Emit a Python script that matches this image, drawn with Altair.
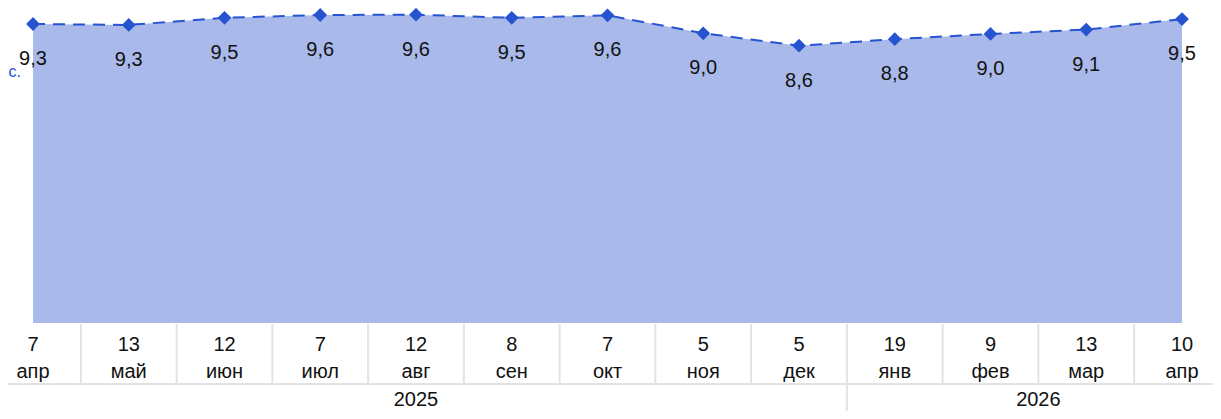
import altair as alt
import pandas as pd

# ---- data ----
days = ["7", "13", "12", "7", "12", "8", "7", "5", "5", "19", "9", "13", "10"]
months = ["апр", "май", "июн", "июл", "авг", "сен", "окт", "ноя", "дек", "янв", "фев", "мар", "апр"]
years_of_point = [2025] * 9 + [2026] * 4
values = [9.31, 9.28, 9.51, 9.60, 9.61, 9.51, 9.59, 9.01, 8.61, 8.82, 8.99, 9.13, 9.47]
unit_label = "тыс."

# ---- style ----
FONT = "Liberation Sans"
LINE_COLOR = "#2653d0"
AREA_COLOR = "#a9b9e9"
GRID_COLOR = "#e3e3e3"
Y_MAX = 9.826
Y_MIN = -0.335
N = len(values)

df = pd.DataFrame({
    "i": list(range(N)),
    "v": values,
    "day": days,
    "month": months,
    "year": years_of_point,
})
df["label"] = [f"{v:.1f}".replace(".", ",") for v in values]

bounds = pd.DataFrame({"b": [k + 0.5 for k in range(N - 1)]})

yr = df.groupby("year")["i"].agg(["min", "max"]).reset_index()
yr["center"] = (yr["min"] - 0.5 + yr["max"] + 0.5) / 2
yr["year"] = yr["year"].astype(str)
year_sep = pd.DataFrame({"b": [float(m) + 0.5 for m in yr["max"].iloc[:-1]]})

xs = alt.Scale(domain=[0, N - 1], nice=False, zero=False)
ys = alt.Scale(domain=[Y_MIN, Y_MAX], nice=False, zero=False)

base = alt.Chart(df)

area = base.mark_area(color=AREA_COLOR, opacity=1).encode(
    x=alt.X("i:Q", scale=xs, axis=None),
    y=alt.Y("v:Q", scale=ys, axis=None),
    y2=alt.datum(Y_MIN),
)
line = base.mark_line(color=LINE_COLOR, strokeWidth=2, strokeDash=[12, 8]).encode(
    x=alt.X("i:Q", scale=xs), y=alt.Y("v:Q", scale=ys)
)
pts = base.mark_point(shape="diamond", filled=True, size=190, opacity=1, color=LINE_COLOR).encode(
    x=alt.X("i:Q", scale=xs), y=alt.Y("v:Q", scale=ys)
)
vlabels = base.mark_text(font=FONT, fontSize=20, color="#111111", dy=35, baseline="middle").encode(
    x=alt.X("i:Q", scale=xs), y=alt.Y("v:Q", scale=ys), text="label:N"
)
daytxt = base.mark_text(font=FONT, fontSize=20, color="#111111", baseline="middle").encode(
    x=alt.X("i:Q", scale=xs), y=alt.value(337), text="day:N"
)
montxt = base.mark_text(font=FONT, fontSize=20, color="#111111", baseline="middle").encode(
    x=alt.X("i:Q", scale=xs), y=alt.value(364), text="month:N"
)
cells = alt.Chart(bounds).mark_rule(color=GRID_COLOR, strokeWidth=2).encode(
    x=alt.X("b:Q", scale=xs), y=alt.value(316), y2=alt.value(376)
)
bottom_line = alt.Chart(bounds).mark_rule(color=GRID_COLOR, strokeWidth=2).encode(
    x=alt.value(-40), x2=alt.value(1250), y=alt.value(376)
)
ysep = alt.Chart(year_sep).mark_rule(color=GRID_COLOR, strokeWidth=2).encode(
    x=alt.X("b:Q", scale=xs), y=alt.value(376), y2=alt.value(420)
)
yeartxt = alt.Chart(yr).mark_text(font=FONT, fontSize=20, color="#111111", baseline="middle").encode(
    x=alt.X("center:Q", scale=xs), y=alt.value(392), text="year:N"
)
unit = alt.Chart(pd.DataFrame({"t": [unit_label]})).mark_text(
    font=FONT, fontSize=16, color=LINE_COLOR, align="right", baseline="middle"
).encode(x=alt.value(-12), y=alt.value(64), text="t:N")

chart = alt.layer(
    area, cells, bottom_line, ysep, line, pts, vlabels, daytxt, montxt, yeartxt, unit
).properties(
    width=1149,
    height=315,
    autosize=alt.AutoSizeParams(type="none"),
    padding={"left": 25, "top": 0, "right": 31, "bottom": 88},
).configure_view(stroke=None)

chart.save("out.html", embed_options={"renderer": "svg", "actions": False})
